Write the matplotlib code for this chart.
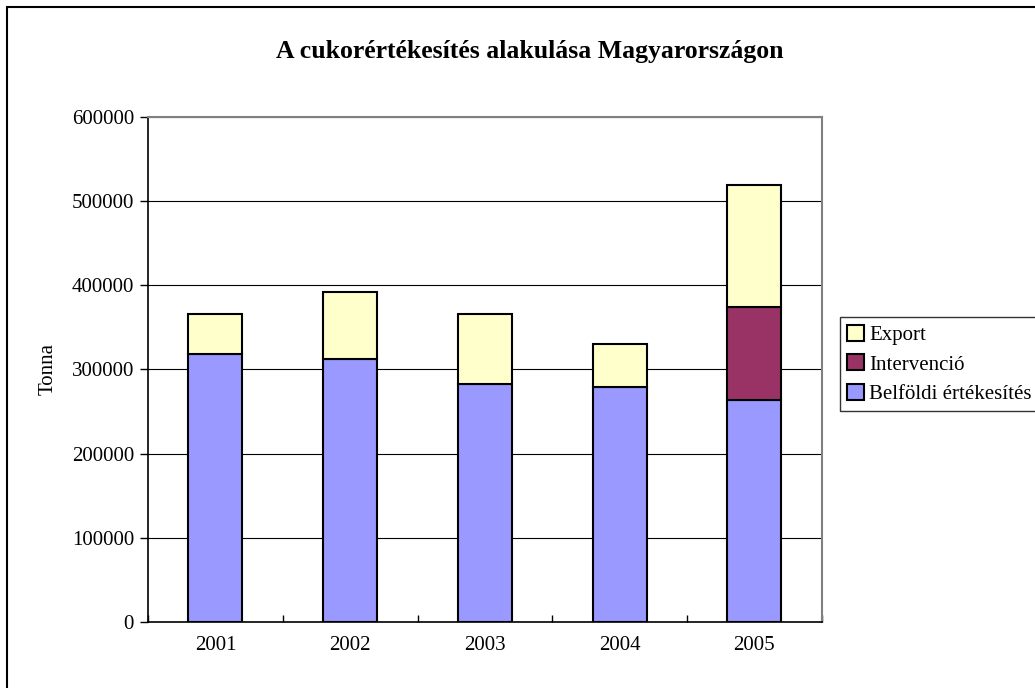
import matplotlib.pyplot as plt
from matplotlib.patches import Rectangle, Patch

years = ["2001", "2002", "2003", "2004", "2005"]
belfoldi = [318000, 313000, 283000, 279000, 264000]
intervencio = [0, 0, 0, 0, 110000]
export = [48000, 79000, 83000, 51000, 145000]

plt.rcParams['font.family'] = ['Liberation Serif', 'DejaVu Serif']

fig = plt.figure(figsize=(10.35, 6.88), dpi=100)
ax = fig.add_axes([0.143, 0.096, 0.651, 0.734])

c_bel, c_int, c_exp = '#9999FF', '#993366', '#FFFFCC'
x = range(len(years))
bottom2 = [b + i for b, i in zip(belfoldi, intervencio)]
b1 = ax.bar(x, belfoldi, width=0.4, color=c_bel, edgecolor='black', linewidth=1.5, zorder=3)
b2 = ax.bar(x, intervencio, width=0.4, bottom=belfoldi, color=c_int, edgecolor='black',
            linewidth=1.5, zorder=3)
for p, v in zip(b2, intervencio):
    if v == 0:
        p.set_visible(False)
b3 = ax.bar(x, export, width=0.4, bottom=bottom2, color=c_exp, edgecolor='black',
            linewidth=1.5, zorder=3)

ax.set_xlim(-0.5, len(years) - 0.5)
ax.set_ylim(0, 600000)
ax.set_yticks(range(0, 600001, 100000))
ax.set_xticks([i + 0.5 for i in range(-1, len(years))])
ax.set_xticklabels([])
ax.set_xticks(list(x), minor=True)
ax.set_xticklabels(years, minor=True)
ax.tick_params(axis='x', which='minor', length=0, labelsize=15, pad=10)
ax.tick_params(axis='x', which='major', direction='in', length=5, width=1)
ax.tick_params(axis='y', direction='out', length=6, width=1, labelsize=15, pad=4)
ax.yaxis.grid(True, color='black', linewidth=0.8, zorder=0)
ax.set_axisbelow(True)

for s in ['top', 'right']:
    ax.spines[s].set_color('#808080')
    ax.spines[s].set_linewidth(1.5)
ax.spines['left'].set_linewidth(1.2)
ax.spines['bottom'].set_linewidth(1.2)

ax.set_ylabel('Tonna', fontsize=15, labelpad=10)
fig.text(0.512, 0.925, 'A cukorértékesítés alakulása Magyarországon', ha='center',
         va='center', fontsize=18.5, fontweight='bold')

handles = [Patch(facecolor=c_exp, edgecolor='black', linewidth=1.5),
           Patch(facecolor=c_int, edgecolor='black', linewidth=1.5),
           Patch(facecolor=c_bel, edgecolor='black', linewidth=1.5)]
leg = ax.legend(handles, ['Export', 'Intervenció', 'Belföldi értékesítés'],
                loc='center left', bbox_to_anchor=(1.027, 0.51),
                fontsize=15, frameon=True, fancybox=False, edgecolor='black',
                handlelength=0.8, handleheight=0.8, handletextpad=0.25,
                borderpad=0.35, labelspacing=0.45, borderaxespad=0)
leg.get_frame().set_linewidth(1.0)

fig.patches.append(Rectangle((7 / 1035, -0.05), 1.1, 0.05 + 1 - 7 / 688,
                             transform=fig.transFigure, fill=False,
                             edgecolor='black', linewidth=1.5, clip_on=False))

fig.savefig('out.png', dpi=100)
